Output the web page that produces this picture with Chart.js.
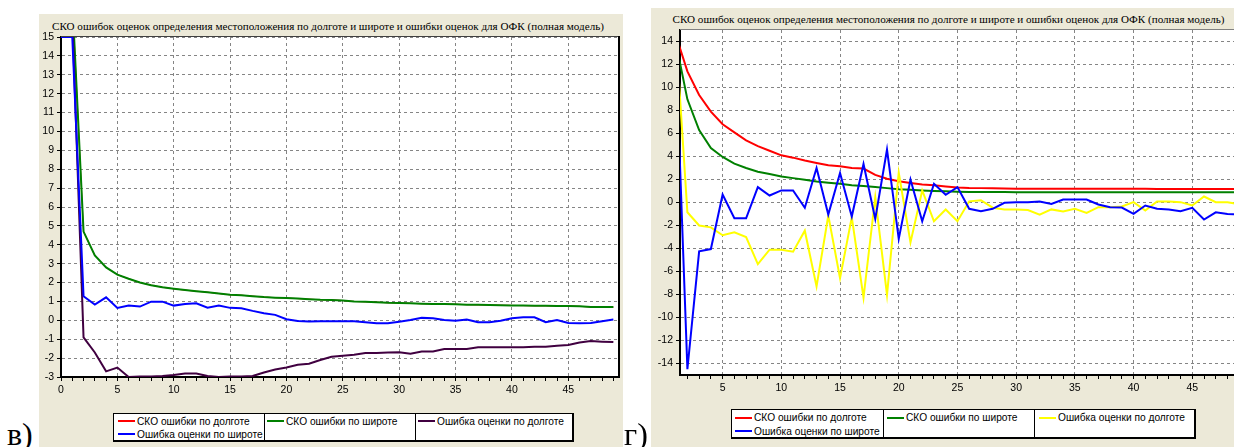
<!DOCTYPE html>
<html>
<head>
<meta charset="utf-8">
<script src="https://cdn.jsdelivr.net/npm/chart.js@4.4.1/dist/chart.umd.min.js"></script>
<style>
  html, body { margin: 0; padding: 0; background: #fff; width: 1234px; height: 447px; overflow: hidden; position: relative; }
  .panel { position: absolute; background: #ECE9D8; }
  .title { position: absolute; text-align: center; white-space: nowrap; font: 11.1px "Liberation Serif", "Times New Roman", serif; color: #000; line-height: 14px; }
  canvas { position: absolute; }
  .legend { position: absolute; background: #fff; border: 1px solid #000; border-right-width: 2px; border-bottom-width: 2px; box-sizing: border-box; font: 10.2px "Liberation Sans", Arial, sans-serif; color: #000; }
  .sep { position: absolute; top: 0; bottom: 0; width: 0; border-left: 1px solid #000; }
  .item { position: absolute; height: 13px; display: flex; align-items: center; white-space: nowrap; }
  .item span.swatch { display: inline-block; width: 17px; height: 2px; margin-right: 2px; }
  .tag { position: absolute; font: 32px "Liberation Serif", "Times New Roman", serif; line-height: 32px; color: #000; }
</style>
</head>
<body>
<div class="panel" style="left:39px;top:14px;width:584px;height:433px;"></div>
<div class="panel" style="left:651px;top:8px;width:600px;height:439px;"></div>
<div class="title" id="titleLeft" style="left:39px;top:19px;width:578px;"></div>
<div class="title" id="titleRight" style="left:651px;top:12px;width:595px;"></div>
<canvas id="plotLeft" width="584" height="433" style="left:39px;top:14px;"></canvas>
<canvas id="plotRight" width="600" height="439" style="left:651px;top:8px;"></canvas>
<div class="legend" id="legendLeft" style="left:113px;top:413px;width:461px;height:29px;"></div>
<div class="legend" id="legendRight" style="left:731px;top:409px;width:465px;height:30px;"></div>
<div class="tag" style="left:7px;top:418px;">в)</div>
<div class="tag" style="left:624px;top:418px;">г)</div>

<script>
// Shared texts
const titleText = 'СКО ошибок оценок определения местоположения по долготе и широте и ошибки оценок для ОФК (полная модель)';
const seriesNames = ['СКО ошибки по долготе', 'СКО ошибки по широте', 'Ошибка оценки по долготе', 'Ошибка оценки по широте'];

// ---- Panel "в": filter steps and series ----
const stepsV = [0, 1, 2, 3, 4, 5, 6, 7, 8, 9, 10, 11, 12, 13, 14, 15, 16, 17, 18, 19, 20, 21, 22, 23, 24,
  25, 26, 27, 28, 29, 30, 31, 32, 33, 34, 35, 36, 37, 38, 39, 40, 41, 42, 43, 44, 45, 46, 47, 48, 49];
const skoLonV = [15, 17, 4.7, 3.43, 2.8, 2.42, 2.2, 2.0, 1.86, 1.75, 1.67, 1.6, 1.54, 1.49, 1.42, 1.35, 1.33, 1.28, 1.23, 1.2,
  1.18, 1.15, 1.12, 1.09, 1.08, 1.05, 1.0, 0.98, 0.96, 0.93, 0.92, 0.9, 0.88, 0.87, 0.86, 0.85, 0.83, 0.82, 0.81, 0.8,
  0.79, 0.78, 0.77, 0.77, 0.76, 0.76, 0.74, 0.71, 0.7, 0.7];
const skoLatV = [15, 17, 4.7, 3.43, 2.8, 2.42, 2.2, 2.0, 1.86, 1.75, 1.67, 1.6, 1.54, 1.49, 1.42, 1.35, 1.33, 1.28, 1.23, 1.2,
  1.18, 1.15, 1.12, 1.09, 1.08, 1.05, 1.0, 0.98, 0.96, 0.93, 0.92, 0.9, 0.88, 0.87, 0.86, 0.85, 0.83, 0.82, 0.81, 0.8,
  0.79, 0.78, 0.77, 0.77, 0.76, 0.76, 0.74, 0.71, 0.7, 0.7];
const errLonV = [15, 16, -0.9, -1.7, -2.7, -2.5, -3.0, -2.97, -2.97, -2.95, -2.9, -2.82, -2.82, -2.95, -3.0, -2.97, -2.97, -2.95, -2.76, -2.6,
  -2.5, -2.35, -2.3, -2.1, -1.93, -1.87, -1.82, -1.73, -1.73, -1.7, -1.69, -1.77, -1.65, -1.65, -1.52, -1.52, -1.52, -1.43, -1.42, -1.43,
  -1.43, -1.43, -1.4, -1.4, -1.34, -1.3, -1.17, -1.1, -1.13, -1.15];
const errLatV = [15, 15, 1.27, 0.83, 1.22, 0.66, 0.78, 0.73, 0.99, 0.99, 0.78, 0.87, 0.9, 0.67, 0.78, 0.66, 0.64, 0.5, 0.38, 0.29,
  0.06, -0.03, -0.06, -0.05, -0.05, -0.05, -0.05, -0.1, -0.15, -0.15, -0.07, 0.02, 0.13, 0.11, 0.02, -0.02, 0.04, -0.1, -0.1, -0.02,
  0.11, 0.16, 0.16, -0.1, 0.02, -0.14, -0.15, -0.14, -0.05, 0.04];
const xLabelsV = [0, 5, 10, 15, 20, 25, 30, 35, 40, 45];
const yLabelsV = [-3, -2, -1, 0, 1, 2, 3, 4, 5, 6, 7, 8, 9, 10, 11, 12, 13, 14, 15];

// ---- Panel "г": filter steps and series ----
const stepsG = [1, 2, 3, 4, 5, 6, 7, 8, 9, 10, 11, 12, 13, 14, 15, 16, 17, 18, 19, 20, 21, 22, 23, 24, 25,
  26, 27, 28, 29, 30, 31, 32, 33, 34, 35, 36, 37, 38, 39, 40, 41, 42, 43, 44, 45, 46, 47, 48, 49];
const skoLonG = [14.6, 11.4, 9.35, 7.9, 6.8, 6.1, 5.4, 4.9, 4.5, 4.1, 3.9, 3.65, 3.44, 3.24, 3.15, 3.0, 2.95, 2.4, 2.07, 1.85,
  1.7, 1.57, 1.5, 1.4, 1.31, 1.26, 1.25, 1.23, 1.22, 1.2, 1.2, 1.2, 1.2, 1.2, 1.2, 1.2, 1.19, 1.19, 1.19, 1.19,
  1.19, 1.18, 1.18, 1.18, 1.18, 1.17, 1.17, 1.17, 1.17];
const skoLatG = [14.0, 8.97, 6.3, 4.74, 3.96, 3.38, 3.0, 2.68, 2.47, 2.27, 2.12, 1.98, 1.83, 1.72, 1.63, 1.51, 1.43, 1.34, 1.25, 1.16,
  1.1, 1.05, 1.0, 0.97, 0.94, 0.92, 0.91, 0.91, 0.91, 0.9, 0.9, 0.9, 0.9, 0.9, 0.9, 0.9, 0.9, 0.9, 0.9, 0.9,
  0.9, 0.9, 0.9, 0.9, 0.9, 0.9, 0.9, 0.9, 0.9];
const errLonG = [15, -0.85, -2.0, -2.16, -2.85, -2.6, -3.0, -5.35, -4.1, -4.1, -4.28, -2.45, -7.3, -1.14, -6.58, -1.28, -8.27, 0.46, -8.03, 2.59,
  -3.47, 1.05, -1.63, -0.61, -1.63, 0.1, 0.2, -0.45, -0.6, -0.6, -0.65, -1.05, -0.6, -0.79, -0.55, -0.9, -0.41, -0.41, -0.35, 0.03,
  -0.7, 0.09, 0.09, 0.03, -0.26, 0.52, 0.03, 0.03, -0.15];
const errLatG = [13.7, -14.5, -4.25, -4.05, 0.7, -1.37, -1.37, 1.34, 0.61, 1.05, 1.05, -0.46, 3.0, -1.05, 2.56, -1.22, 3.35, -1.43, 4.6, -3.17,
  2.0, -1.63, 1.63, 0.67, 1.34, -0.55, -0.76, -0.55, -0.03, 0.03, 0.03, 0.09, -0.12, 0.26, 0.26, 0.26, -0.17, -0.41, -0.44, -0.99,
  -0.26, -0.55, -0.61, -0.76, -0.46, -1.48, -0.85, -0.99, -1.05];
const xLabelsG = [5, 10, 15, 20, 25, 30, 35, 40, 45];
const yLabelsG = [-14, -12, -10, -8, -6, -4, -2, 0, 2, 4, 6, 8, 10, 12, 14];

const RED = '#FF0000', GREEN = '#008000', BLUE = '#0000FF', PURPLE = '#400040', YELLOW = '#FFFF00';
const GRID = '#858585';
const tickFont = { family: '"Liberation Sans", Arial, sans-serif', size: 10.5 };

// White plotting field plus the upper (and optionally right) frame edge
const plotFrame = {
  id: 'plotFrame',
  beforeDraw(chart) {
    const { ctx, chartArea: a } = chart;
    ctx.save();
    ctx.fillStyle = '#fff';
    ctx.fillRect(a.left, a.top, a.right - a.left, a.bottom - a.top);
    ctx.restore();
  },
  afterDraw(chart, args, o) {
    const { ctx, chartArea: a } = chart;
    ctx.save();
    ctx.lineWidth = 1;
    ctx.strokeStyle = o.topColor;
    ctx.beginPath();
    ctx.moveTo(a.left, Math.round(a.top) - 0.5);
    ctx.lineTo(a.right, Math.round(a.top) - 0.5);
    ctx.stroke();
    if (o.right) {
      ctx.lineWidth = 2;
      ctx.strokeStyle = '#000';
      ctx.beginPath();
      ctx.moveTo(Math.round(a.right), a.top - 1);
      ctx.lineTo(Math.round(a.right), a.bottom + 1);
      ctx.stroke();
    }
    ctx.restore();
  }
};

function unitTicks(lo, hi) {
  const out = [];
  for (let v = Math.ceil(lo); v <= Math.floor(hi); v++) out.push(v);
  return out;
}

function drawPlot(id, opt) {
  const datasets = opt.series.map(s => ({
    label: s.name,
    data: opt.steps.map((x, i) => ({ x: x, y: s.values[i] })),
    borderColor: s.color,
    backgroundColor: s.color,
    borderWidth: s.width || 2,
    pointRadius: 0,
    tension: 0,
    fill: false,
    order: s.order
  }));
  const majorX = v => opt.xLabels.includes(v);
  return new Chart(document.getElementById(id), {
    type: 'line',
    data: { datasets },
    options: {
      responsive: false,
      animation: false,
      events: [],
      layout: { padding: opt.padding },
      plugins: { legend: { display: false }, tooltip: { enabled: false }, plotFrame: opt.frame },
      scales: {
        x: {
          type: 'linear', min: opt.xMin, max: opt.xMax,
          afterBuildTicks: sc => { sc.ticks = unitTicks(opt.xMin, opt.xMax).map(v => ({ value: v })); },
          afterFit: sc => { sc.height = opt.xAxisHeight; },
          ticks: { autoSkip: false, maxRotation: 0, padding: 3, color: '#000', font: tickFont,
                   callback: v => majorX(v) ? String(v) : '' },
          grid: { color: c => (c.tick && majorX(c.tick.value)) ? GRID : 'rgba(0,0,0,0)',
                  tickColor: '#000', tickLength: 4, lineWidth: 1 },
          border: { color: '#000', width: 2, dash: [3, 3] }
        },
        y: {
          type: 'linear', min: opt.yMin, max: opt.yMax,
          afterBuildTicks: sc => { sc.ticks = opt.yLabels.map(v => ({ value: v })); },
          afterFit: sc => { sc.width = opt.yAxisWidth; },
          ticks: { autoSkip: false, padding: 3, color: '#000', font: tickFont, callback: v => String(v) },
          grid: { color: GRID, tickColor: '#000', tickLength: 4, lineWidth: 1 },
          border: { color: '#000', width: 2, dash: [3, 3] }
        }
      }
    },
    plugins: [plotFrame]
  });
}

function buildLegend(id, colors, g) {
  const box = document.getElementById(id);
  g.seps.forEach(x => {
    const s = document.createElement('div');
    s.className = 'sep';
    s.style.left = x + 'px';
    box.appendChild(s);
  });
  seriesNames.forEach((name, i) => {
    const it = document.createElement('div');
    it.className = 'item';
    it.style.left = g.cols[i % 3] + 'px';
    it.style.top = g.rows[Math.floor(i / 3)] + 'px';
    const sw = document.createElement('span');
    sw.className = 'swatch';
    sw.style.background = colors[i];
    it.appendChild(sw);
    it.appendChild(document.createTextNode(name));
    box.appendChild(it);
  });
}

document.getElementById('titleLeft').textContent = titleText;
document.getElementById('titleRight').textContent = titleText;

// In this model the longitude RMS curve coincides with the latitude one and lies beneath it
drawPlot('plotLeft', {
  steps: stepsV,
  series: [
    { name: seriesNames[0], values: skoLonV, color: RED, order: 4, width: 1 },
    { name: seriesNames[1], values: skoLatV, color: GREEN, order: 3 },
    { name: seriesNames[2], values: errLonV, color: PURPLE, order: 2 },
    { name: seriesNames[3], values: errLatV, color: BLUE, order: 1 }
  ],
  xMin: 0, xMax: 49.5, yMin: -3, yMax: 15,
  xLabels: xLabelsV, yLabels: yLabelsV,
  padding: { top: 23, right: 4, left: 0, bottom: 0 },
  yAxisWidth: 22, xAxisHeight: 70,
  frame: { topColor: '#404040', right: true }
});

drawPlot('plotRight', {
  steps: stepsG,
  series: [
    { name: seriesNames[0], values: skoLonG, color: RED, order: 4 },
    { name: seriesNames[1], values: skoLatG, color: GREEN, order: 3 },
    { name: seriesNames[2], values: errLonG, color: YELLOW, order: 2 },
    { name: seriesNames[3], values: errLatG, color: BLUE, order: 1 }
  ],
  xMin: 1.37, xMax: 49.15, yMin: -15, yMax: 15,
  xLabels: xLabelsG, yLabels: yLabelsG,
  padding: { top: 22, right: 10, left: 0, bottom: 0 },
  yAxisWidth: 29, xAxisHeight: 72,
  frame: { topColor: '#808080', right: false }
});

buildLegend('legendLeft', [RED, GREEN, PURPLE, BLUE], {
  seps: [150, 301], cols: [4, 153, 304], rows: [0.5, 13.8]
});
buildLegend('legendRight', [RED, GREEN, YELLOW, BLUE], {
  seps: [151, 302], cols: [3, 155, 307], rows: [1.2, 14.5]
});
</script>
</body>
</html>
